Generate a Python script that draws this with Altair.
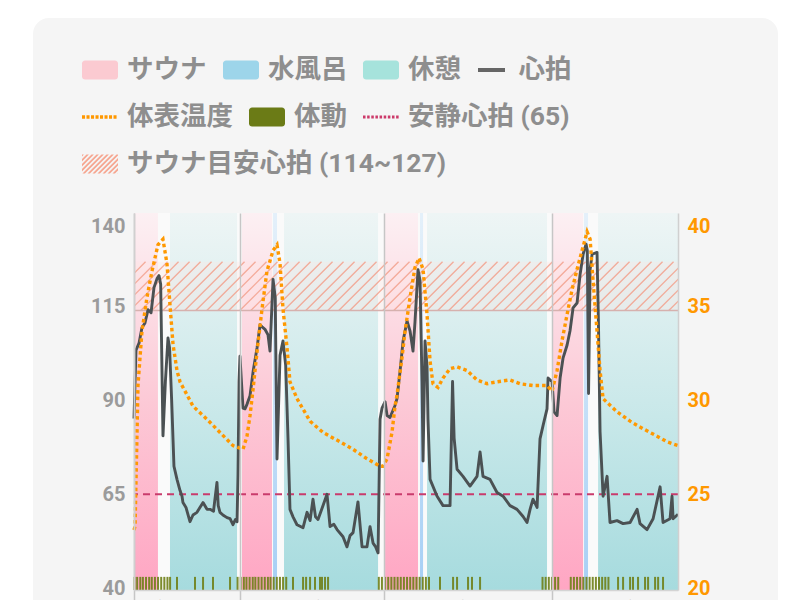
import altair as alt
import pandas as pd
import numpy as np

FONT = "Roboto, 'Noto Sans CJK JP', sans-serif"
GREY = "#9b9b9b"

# ---------------- data ----------------
phase_kind = ["sauna", "rest", "sauna", "water", "rest", "sauna", "water", "rest", "sauna", "water", "rest"]
phase_start = [0.0, 3.44, 10.32, 13.29, 14.34, 24.0, 27.34, 28.01, 39.96, 43.02, 44.36]
phase_end = [2.29, 9.85, 13.19, 13.67, 23.33, 27.15, 27.63, 39.48, 42.93, 43.40, 52.0]

set_start = [0.0, 10.13, 23.9, 39.96]

hr_t = [0.0, 0.19, 0.48, 0.76, 1.05, 1.34, 1.63, 1.91, 2.2, 2.39, 2.55, 2.77, 3.0, 3.25, 3.4, 3.6, 3.82, 4.11, 4.4, 4.59,
        4.68, 4.97, 5.35, 5.64, 6.02, 6.3, 6.6, 6.98, 7.27, 7.6, 7.93, 8.05, 8.22, 8.5, 8.89, 9.18, 9.46, 9.7, 9.85,
        9.94, 10.04, 10.13, 10.25, 10.42, 10.61, 10.8, 11.09, 11.4, 11.76, 12.05, 12.3, 12.52, 12.81, 13.0, 13.29, 13.5,
        13.67, 13.96, 14.24, 14.5, 14.72, 14.91, 15.2, 15.58, 16.16, 16.54, 16.83, 17.11, 17.35, 17.59, 18.07, 18.45,
        18.74, 19.1, 19.41, 19.98, 20.36, 20.65, 20.94, 21.41, 21.8, 22.27, 22.56, 22.85, 23.1, 23.33,
        23.52, 23.71, 24.0, 24.19, 24.47, 24.95, 25.14, 25.43, 25.72, 26.1, 26.39, 26.67, 26.86, 27.15, 27.34, 27.53,
        27.63, 27.82, 28.01, 28.1, 28.3, 28.97, 29.54, 30.21, 30.45, 30.6, 30.88, 31.45, 32.12, 32.79, 33.08, 33.36,
        34.03, 34.7, 35.28, 35.94, 36.61, 37.19, 37.57, 37.86, 38.14, 38.53, 38.81, 39.1, 39.48, 39.58, 39.96, 40.15,
        40.44, 40.73, 41.01, 41.4, 41.68, 41.97, 42.35, 42.64, 42.93, 43.21, 43.33, 43.45, 43.6, 43.79, 44.26, 44.4,
        44.55, 44.84, 45.22, 45.5, 46.17, 46.75, 47.42, 48.09, 48.37, 49.04, 49.62, 50.29, 50.57, 51.24, 51.43, 51.53,
        52.0]
hr_v = [85.2, 103.4, 105.3, 109.4, 110.7, 114.2, 113.4, 120.1, 122.5, 123.3, 121.0, 80.6, 95.0, 106.7, 104.0, 90.0,
        72.5, 69.0, 66.0, 64.5, 62.8, 61.5, 57.7, 59.5, 60.2, 61.5, 62.8, 61.0, 61.0, 60.5, 68.2, 62.0, 60.2, 59.5,
        58.8, 58.5, 56.9, 58.3, 57.7,
        70.0, 95.0, 101.8, 96.0, 88.0, 87.8, 89.0, 91.3, 98.0, 104.0, 110.2, 109.5, 109.0, 107.5, 103.2, 122.3, 117.4,
        74.4, 102.1, 105.9, 99.4, 80.0, 61.0, 59.0, 56.9, 56.1, 60.2, 58.0, 63.7, 59.0, 58.3, 62.0, 65.0, 56.4, 57.0,
        55.6, 53.7, 51.0, 54.0, 54.8, 63.0, 51.0, 51.0, 56.4, 52.0, 51.0, 49.4,
        85.0, 88.0, 89.7, 86.0, 85.5, 88.7, 90.5, 97.8, 105.9, 111.2, 108.5, 103.2, 111.0, 124.9, 122.0, 95.0, 73.9,
        105.9, 99.0, 85.0, 69.0, 64.5, 62.0, 62.0, 95.1, 80.0, 71.7, 69.8, 67.2, 69.8, 76.3, 69.8, 69.0, 65.5, 64.5,
        62.0, 61.0, 59.1, 57.5, 61.0, 63.7, 61.5, 79.8, 83.3, 87.8, 96.0, 95.0, 87.0, 86.0, 96.0, 101.3, 104.8, 108.6,
        114.7, 116.0, 123.6, 129.0, 131.7, 130.0, 91.9, 125.0, 129.0, 129.5, 110.0, 81.7, 64.5, 69.8, 57.5, 58.0, 57.2,
        57.5, 61.0, 57.2, 55.6, 58.5, 67.0, 57.5, 58.5, 64.5, 58.5, 59.7]

tmp_t = [0.0, 0.1, 0.29, 0.38, 0.76, 1.24, 1.72, 2.29, 2.77, 3.15, 3.44, 3.73, 4.11, 4.4, 5.07, 5.64, 6.98, 8.22, 9.46,
         10.42, 10.8, 11.09, 11.38, 11.76, 12.24, 12.71, 13.29, 13.67, 13.96, 14.24, 14.63, 14.91, 15.58, 16.83, 18.07,
         19.69, 20.94, 22.27, 23.52, 23.8, 24.19, 24.66, 24.95, 25.14, 25.62, 25.91, 26.39, 26.86, 27.25, 27.63, 28.01,
         28.3, 28.58, 29.06, 29.54, 30.21, 30.88, 31.83, 32.79, 33.75, 34.7, 35.94, 36.9, 38.14, 39.48, 39.96, 40.44,
         40.92, 41.4, 41.87, 42.35, 42.83, 43.31, 43.6, 43.88, 44.26, 44.55, 44.84, 45.22, 46.17, 47.42, 48.66, 50.0,
         50.96, 52.0]
tmp_v = [23.1, 23.3, 28.3, 30.8, 33.7, 35.5, 36.9, 38.3, 38.6, 37.3, 35.1, 33.0, 31.6, 31.0, 30.3, 29.7, 29.0, 28.3,
         27.6, 27.4, 28.1, 29.2, 30.6, 32.6, 34.9, 36.9, 38.0, 38.3, 37.3, 34.9, 32.8, 31.0, 30.1, 28.9, 28.3, 27.8,
         27.4, 26.9, 26.5, 26.5, 26.9, 28.3, 29.7, 30.3, 32.3, 33.7, 35.5, 37.1, 37.6, 37.0, 34.6, 32.1, 30.9, 30.7,
         31.2, 31.7, 31.8, 31.6, 31.1, 30.9, 31.0, 31.1, 30.9, 30.8, 30.8, 30.5, 31.6, 33.2, 34.6, 35.9, 37.0, 38.0,
         39.0, 38.6, 36.4, 33.7, 31.6, 30.1, 29.9, 29.4, 28.9, 28.5, 28.1, 27.8, 27.6]

move_t = [0.05, 0.3, 0.6, 0.85, 1.15, 1.45, 1.7, 2.0, 2.3, 2.6, 2.9, 3.2, 3.45, 4.11, 5.83, 6.6, 7.55, 9.18,
          9.9, 10.2, 10.5, 10.75, 11.05, 11.35, 11.6, 11.9, 12.2, 12.5, 12.8, 13.05, 13.35, 13.65, 13.95, 14.25, 14.55,
          15.2, 16.16, 16.45, 16.83, 17.3, 17.78, 17.97, 18.26, 18.55,
          23.4, 23.7, 24.0, 24.3, 24.6, 24.9, 25.2, 25.5, 25.8, 26.1, 26.4, 26.7, 27.0, 27.3, 27.6, 27.9, 28.2,
          29.25, 30.5, 30.88, 31.93, 32.31, 33.08,
          39.05, 39.35, 39.65, 39.95, 40.25, 40.55, 41.75, 42.05, 42.35, 42.65, 42.95, 43.25, 43.55, 43.85, 44.15,
          44.45, 44.75, 45.05, 45.35, 46.27, 46.75, 47.42, 47.7, 48.18, 48.85, 49.14, 49.81, 50.1, 50.57]

xlab_t = [2.96, 8.03, 13.0, 18.07, 27.06, 31.9, 42.8, 47.9]
xlab_s = ["20:05", "20:10", "20:20", "20:25", "20:40", "20:45", "21:00", "21:05"]

hr_ticks = [40, 65, 90, 115, 140]
temp_ticks = [20, 25, 30, 35, 40]
rest_hr = [65]
band_lo = [114]
band_hi = [127]

legend_labels = ["サウナ", "水風呂", "休憩", "心拍", "体表温度", "体動", "安静心拍 (65)", "サウナ目安心拍 (114~127)"]

T_MAX = 52.0
HR_DOM = [39.5, 140]
TEMP_DOM = [19.9, 40]

W, H = 544, 377

# ---------------- scales / axes ----------------
XS = alt.Scale(domain=[0, T_MAX], nice=False, zero=False)
YS = alt.Scale(domain=HR_DOM, nice=False, zero=False)
TS = alt.Scale(domain=TEMP_DOM, nice=False, zero=False)

XAX = alt.Axis(values=set_start, grid=True, gridColor="#c6c6c6", gridWidth=1.5, labels=False, ticks=True,
               tickSize=12, tickColor="#c6c6c6", tickWidth=1.5, domainColor="#d4d4d4", domainWidth=1.5,
               title=None, zindex=1)
YAX = alt.Axis(values=hr_ticks, orient="left", grid=False, ticks=False, domainColor="#d0d0d0", domainWidth=1.5,
               labelFont=FONT, labelFontSize=20, labelFontWeight="bold", labelColor=GREY, labelPadding=9,
               labelOffset={"condition": {"test": "datum.value >= 140", "value": 13}, "value": 0},
               title=None, zindex=1)
TAX = alt.Axis(values=temp_ticks, orient="right", grid=False, ticks=False, domainColor="#d0d0d0", domainWidth=1.5,
               labelFont=FONT, labelFontSize=20, labelFontWeight="bold", labelColor="#ff9800", labelPadding=9,
               labelOffset={"condition": {"test": "datum.value >= 40", "value": 13}, "value": 0},
               title=None, zindex=1)


def X(f):
    return alt.X(f, type="quantitative", scale=XS, axis=XAX)


def Y(f):
    return alt.Y(f, type="quantitative", scale=YS, axis=YAX)


def grad(c0, c1, mid=None):
    stops = [{"offset": 0, "color": c0}]
    if mid:
        stops.append({"offset": 0.5, "color": mid})
    stops.append({"offset": 1, "color": c1})
    return {"gradient": "linear", "x1": 0, "y1": 0, "x2": 0, "y2": 1, "stops": stops}


phases = pd.DataFrame({"kind": phase_kind, "start": phase_start, "end": phase_end})
hr_df = pd.DataFrame({"t": hr_t, "v": hr_v})
tmp_df = pd.DataFrame({"t": tmp_t, "v": tmp_v})
mv_df = pd.DataFrame({"t": move_t})
band_df = pd.DataFrame({"lo": band_lo, "hi": band_hi})
rest_df = pd.DataFrame({"v": rest_hr})
xlab_df = pd.DataFrame({"t": xlab_t, "s": xlab_s})
one = pd.DataFrame({"a": [0]})

# hatch stripe pattern (45 degrees in screen space)
px_per_min = W / T_MAX
px_per_hr = H / (HR_DOM[1] - HR_DOM[0])
run = (band_hi[0] - band_lo[0]) * px_per_hr / px_per_min
stripe_df = pd.DataFrame({"x0": np.arange(-run - 1.0, T_MAX + 1.0, 11.0 / px_per_min)})

# ---------------- layers ----------------
card = alt.Chart(one).mark_rect(color="#f5f5f5", cornerRadius=16).encode(
    x=alt.value(-101), x2=alt.value(644), y=alt.value(-195), y2=alt.value(460))

plot_bg = alt.Chart(one).mark_rect(color="#fafafa").transform_calculate(
    x0="0", x1=str(T_MAX), y0=str(HR_DOM[0]), y1=str(HR_DOM[1])).encode(
    x=X("x0"), x2="x1", y=Y("y0"), y2="y1")


def phase_layer(kind, fill):
    return alt.Chart(phases).transform_filter(alt.datum.kind == kind).mark_rect(fill=fill).encode(
        x=X("start"), x2="end")


sauna = phase_layer("sauna", grad("#fcf0f3", "#ffa6c3", "#fcc9d6"))
water = phase_layer("water", grad("#e4f0fa", "#a6cff5"))
rest = phase_layer("rest", grad("#eef5f5", "#a6dbde", "#cbe9ea"))

band = alt.Chart(band_df).mark_rect(color="#ffe6e0", opacity=0.3).encode(y=Y("lo"), y2="hi")
stripes = alt.Chart(stripe_df).transform_calculate(
    x1=f"datum.x0 + {run}", lo=str(band_lo[0]), hi=str(band_hi[0])).mark_rule(
    clip=True, color="#f2a08c", strokeWidth=1.3, opacity=0.85).encode(
    x=X("x0"), x2="x1", y=Y("lo"), y2="hi")
band_edge = alt.Chart(band_df).mark_rule(color="#d6b1ae", strokeWidth=1.5).encode(y=Y("lo"))

rest_line = alt.Chart(rest_df).mark_rule(color="#c93b6c", strokeWidth=2, strokeDash=[7, 5]).encode(y=Y("v"))

moves = alt.Chart(mv_df).transform_calculate(lo=str(HR_DOM[0]), hi="43").mark_rule(
    color="#6f7f17", strokeWidth=2, opacity=0.9).encode(x=X("t"), y=Y("lo"), y2="hi")

hr_line = alt.Chart(hr_df).mark_line(color="#4b5153", strokeWidth=2.9, strokeJoin="round").encode(
    x=X("t"), y=Y("v"))

xlabels = alt.Chart(xlab_df).mark_text(angle=315, align="right", baseline="middle", font=FONT, fontSize=14,
                                       fontWeight="bold", color=GREY).encode(
    x=X("t"), y=alt.value(H + 13), text="s:N")

inner = alt.layer(plot_bg, sauna, water, rest, band, stripes, band_edge, rest_line, moves, hr_line, xlabels)

temp_line = alt.Chart(tmp_df).mark_line(color="#ff9800", strokeWidth=3.4, strokeDash=[3.5, 3]).encode(
    x=X("t"), y=alt.Y("v", type="quantitative", scale=TS, axis=TAX))


# ---------------- legend (custom symbol paths) ----------------
def rounded_rect(w=2.0, h=1.05, r=0.17):
    x0, x1, y0, y1 = -w / 2, w / 2, -h / 2, h / 2
    return (f"M{x0 + r:.3f},{y0:.3f}H{x1 - r:.3f}A{r},{r} 0 0 1 {x1:.3f},{y0 + r:.3f}V{y1 - r:.3f}"
            f"A{r},{r} 0 0 1 {x1 - r:.3f},{y1:.3f}H{x0 + r:.3f}A{r},{r} 0 0 1 {x0:.3f},{y1 - r:.3f}"
            f"V{y0 + r:.3f}A{r},{r} 0 0 1 {x0 + r:.3f},{y0:.3f}Z")


def dots(n, period, w, h, start=-1.0):
    return "".join(f"M{start + i * period:.3f},{-h / 2:.3f}h{w:.3f}v{h:.3f}h{-w:.3f}Z" for i in range(n))


def clip(poly, f):
    out = []
    for i in range(len(poly)):
        p, q = poly[i], poly[(i + 1) % len(poly)]
        fp, fq = f(p), f(q)
        if fp >= 0:
            out.append(p)
        if (fp >= 0) != (fq >= 0):
            t = fp / (fp - fq)
            out.append((p[0] + t * (q[0] - p[0]), p[1] + t * (q[1] - p[1])))
    return out


def hatch(period=5.0, width=2.4):
    box = [(-18, -9.5), (18, -9.5), (18, 9.5), (-18, 9.5)]
    parts = []
    c = -28.0
    while c < 28:
        poly = clip(box, lambda p: p[0] + p[1] - c)
        poly = clip(poly, lambda p: c + width - (p[0] + p[1]))
        if len(poly) >= 3:
            parts.append("M" + "L".join(f"{x / 18:.3f},{y / 18:.3f}" for x, y in poly) + "Z")
        c += period
    return "".join(parts)


legend_colors = ["#fbcad1", "#9dd5ea", "#a6e3dc", "#666666", "#ff9800", "#6b7b16", "#cc3a6a", "#f6a58f"]
legend_paths = [rounded_rect(), rounded_rect(), rounded_rect(), "M-0.75,-0.11H0.75V0.11H-0.75Z",
                dots(8, 0.25, 0.17, 0.2), rounded_rect(), dots(9, 0.23, 0.14, 0.17), hatch()]
# legend entry placement (plot-relative pixels): x of symbol's left edge, y of entry's top
legend_x = [-52, 89, 229, 339.5, -52, 115, 229, -52]
legend_y = [-161, -161, -161, -161, -114, -114, -114, -67]


def legend_layer(i):
    item = [legend_labels[i]]
    lg = alt.Legend(orient="none", legendX=legend_x[i], legendY=legend_y[i], direction="horizontal", title=None,
                    labelFont=FONT, labelFontSize=26.5, labelFontWeight="bold", labelColor="#8e8e8e",
                    labelOffset=9, symbolSize=1296, symbolStrokeWidth=0, labelLimit=600, padding=0,
                    symbolOpacity=1)
    return alt.Chart(pd.DataFrame({"item": item})).mark_point(filled=True, opacity=1).transform_filter(
        "false").encode(
        fill=alt.Fill("item:N", scale=alt.Scale(domain=item, range=[legend_colors[i]]), legend=lg),
        shape=alt.Shape("item:N", scale=alt.Scale(domain=item, range=[legend_paths[i]]), legend=lg))


legends = [legend_layer(i) for i in range(len(legend_labels))]

chart = alt.layer(card, inner, temp_line, *legends).resolve_scale(
    y="independent", fill="independent", shape="independent").properties(
    width=W, height=H, background="white",
    autosize=alt.AutoSizeParams(type="none"),
    padding={"left": 126, "top": 205, "right": 114, "bottom": 60}).configure_view(stroke=None)

chart.save("out.html", embed_options={"renderer": "svg", "actions": False})
